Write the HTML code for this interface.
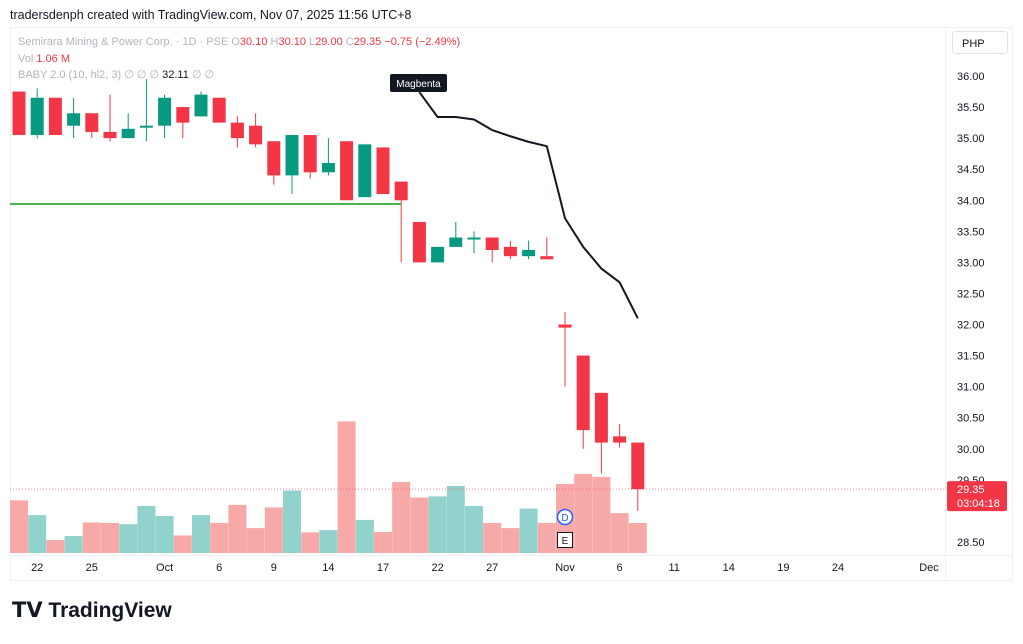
<!DOCTYPE html>
<html><head><meta charset="utf-8"><style>
body{margin:0;background:#fff;width:1023px;height:639px;overflow:hidden;font-family:"Liberation Sans",sans-serif}
</style></head><body>
<svg width="1023" height="639" viewBox="0 0 1023 639" xmlns="http://www.w3.org/2000/svg">
<text x="10" y="19" font-size="12.5" fill="#131722">tradersdenph created with TradingView.com, Nov 07, 2025 11:56 UTC+8</text>
<rect x="10.5" y="27.5" width="1002" height="553" fill="none" stroke="#eef0f3"/>
<line x1="945.5" y1="28" x2="945.5" y2="580" stroke="#eef0f3"/>
<line x1="10" y1="555.5" x2="1012" y2="555.5" stroke="#eef0f3"/>
<g font-size="11">
<text x="18" y="45" fill="#b2b5be">Semirara Mining &amp; Power Corp. · 1D · PSE  <tspan fill="#b2b5be">O</tspan><tspan fill="#f23645">30.10</tspan> <tspan>H</tspan><tspan fill="#f23645">30.10</tspan> <tspan>L</tspan><tspan fill="#f23645">29.00</tspan> <tspan>C</tspan><tspan fill="#f23645">29.35</tspan> <tspan fill="#f23645">−0.75 (−2.49%)</tspan></text>
<text x="18" y="62" fill="#b2b5be">Vol <tspan fill="#f23645"> 1.06 M</tspan></text>
<text x="18" y="78" fill="#b2b5be">BABY 2.0 (10, hl2, 3)  ∅  ∅  ∅  <tspan fill="#131722">32.11</tspan>  ∅  ∅</text>
</g>
<rect x="952.5" y="31.5" width="55" height="22" rx="3" fill="#fff" stroke="#e0e3eb"/>
<text x="962" y="47" font-size="11" fill="#131722">PHP</text>
<g id="yaxis" font-size="11" fill="#131722"></g>
<g id="xaxis" font-size="11" fill="#131722"></g>
<g id="vol"></g>
<g id="candles"></g>
<g id="lines"></g>
<g id="overlay"></g>
<text x="12" y="617" font-size="21" font-weight="bold" fill="#131722">𝗧𝗩 TradingView</text>
</svg>
<script>
const opens =  [35.75,35.05,35.65,35.2,35.4,35.1,35.0,35.2,35.2,35.5,35.35,35.65,35.25,35.2,34.95,34.4,35.05,34.45,34.95,34.05,34.85,34.3,33.65,33.0,33.25,33.4,33.4,33.25,33.1,33.1,32.0,31.5,30.9,30.2,30.1];
const highs =  [35.75,35.8,35.65,35.65,35.4,35.7,35.4,35.95,35.7,35.5,35.75,35.65,35.35,35.4,34.95,35.05,35.05,35.0,34.95,34.9,34.85,34.3,33.65,33.25,33.65,33.5,33.4,33.35,33.35,33.4,32.2,31.5,30.9,30.4,30.1];
const lows =   [35.05,35.0,35.05,35.0,35.0,34.95,35.0,34.95,35.0,35.0,35.35,35.25,34.85,34.85,34.25,34.1,34.35,34.4,34.0,34.05,34.1,33.0,33.0,33.0,33.25,33.15,33.0,33.05,33.05,33.05,31.0,30.0,29.6,30.02,29.0];
const closes = [35.05,35.65,35.05,35.4,35.1,35.0,35.15,35.2,35.65,35.25,35.7,35.25,35.0,34.9,34.4,35.05,34.45,34.6,34.0,34.9,34.1,34.0,33.0,33.25,33.4,33.4,33.2,33.1,33.2,33.05,31.95,30.3,30.1,30.1,29.35];
const volumes = [1.86,1.34,0.46,0.6,1.08,1.06,1.02,1.66,1.31,0.62,1.34,1.06,1.7,0.88,1.61,2.21,0.73,0.81,4.65,1.17,0.74,2.51,1.96,2.0,2.37,1.66,1.06,0.88,1.57,1.06,2.44,2.79,2.69,1.41,1.06];
const lineStart = 22;
const lineValues = [35.74,35.34,35.34,35.3,35.13,35.03,34.94,34.87,33.71,33.25,32.9,32.68,32.1];
const supportLevel = 33.94;
const supportEndIndex = 21;
const priceTicks = [36.0,35.5,35.0,34.5,34.0,33.5,33.0,32.5,32.0,31.5,31.0,30.5,30.0,29.5,28.5];
const dateLabels = ["22","25","Oct","6","9","14","17","22","27","Nov","6","11","14","19","24","Dec"];
const dateIdx = [1,4,8,11,14,17,20,23,26,30,33,36,39,42,45,50];
const lastPrice = 29.35;

const NS="http://www.w3.org/2000/svg";
const xOf=i=>19+18.2*i;
const yOf=p=>76+(36-p)*62.13;
const vy=v=>553-v*28.3;
function mk(tag,attrs,parent,text){const e=document.createElementNS(NS,tag);for(const k in attrs)e.setAttribute(k,attrs[k]);if(text!==undefined)e.textContent=text;document.getElementById(parent).appendChild(e);return e;}

priceTicks.forEach(p=>{
  const t=mk('text',{x:957,y:yOf(p)+4},'yaxis',p.toFixed(2));
  
  
});
dateLabels.forEach((d,k)=>{
  const t=mk('text',{x:xOf(dateIdx[k]),y:571,'text-anchor':'middle'},'xaxis',d);
  
  
});
volumes.forEach((v,i)=>{
  const up=closes[i]>=opens[i];
  const r=mk('rect',{x:xOf(i)-9,y:vy(v),width:18,height:553-vy(v),fill:up?'#92d2cc':'#f7a9a7'},'vol');
  
  
});
mk('line',{x1:10,y1:yOf(lastPrice),x2:945,y2:yOf(lastPrice),stroke:'#f23645','stroke-width':1,'stroke-dasharray':'1 2',opacity:0.6},'lines');
opens.forEach((o,i)=>{
  const c=closes[i],up=c>=o,col=up?'#089981':'#f23645',x=xOf(i);
  const g=mk('g',{},'candles');
  
  
  const w=document.createElementNS(NS,'line');
  w.setAttribute('x1',x);w.setAttribute('x2',x);w.setAttribute('y1',yOf(highs[i]));w.setAttribute('y2',yOf(lows[i]));w.setAttribute('stroke',col);w.setAttribute('stroke-width',1);
  g.appendChild(w);
  const top=yOf(Math.max(o,c)),bot=yOf(Math.min(o,c));
  const b=document.createElementNS(NS,'rect');
  b.setAttribute('x',x-6.5);b.setAttribute('y',top);b.setAttribute('width',13);b.setAttribute('height',Math.max(2,bot-top));b.setAttribute('fill',col);
  g.appendChild(b);
});
const sl=mk('line',{x1:10,y1:yOf(supportLevel),x2:xOf(supportEndIndex),y2:yOf(supportLevel),stroke:'#4caf50','stroke-width':2},'lines');


const pts=lineValues.map((v,k)=>xOf(lineStart+k)+','+yOf(v)).join(' ');
const pl=mk('polyline',{points:pts,fill:'none',stroke:'#131722','stroke-width':2},'lines');


const lb=mk('rect',{x:390,y:74,width:57,height:18,rx:2,fill:'#131722'},'overlay');


mk('text',{x:418.5,y:87,'text-anchor':'middle','font-size':10,fill:'#fff'},'overlay','Magbenta');
const dc=mk('circle',{cx:565,cy:517,r:7.5,fill:'#fff',stroke:'#2962ff','stroke-width':1.5},'overlay');


mk('text',{x:565,y:521,'text-anchor':'middle','font-size':10,fill:'#2962ff'},'overlay','D');
const eb=mk('rect',{x:557.5,y:532.5,width:15,height:15,fill:'#fff',stroke:'#131722'},'overlay');


mk('text',{x:565,y:544,'text-anchor':'middle','font-size':10,fill:'#131722'},'overlay','E');
const pb=mk('rect',{x:947,y:yOf(lastPrice)-8,width:60,height:30,rx:2,fill:'#f23645'},'overlay');


mk('text',{x:957,y:yOf(lastPrice)+4,'font-size':11,fill:'#fff'},'overlay',lastPrice.toFixed(2));
mk('text',{x:957,y:yOf(lastPrice)+18,'font-size':11,fill:'#fff'},'overlay','03:04:18');
</script>
</body></html>
